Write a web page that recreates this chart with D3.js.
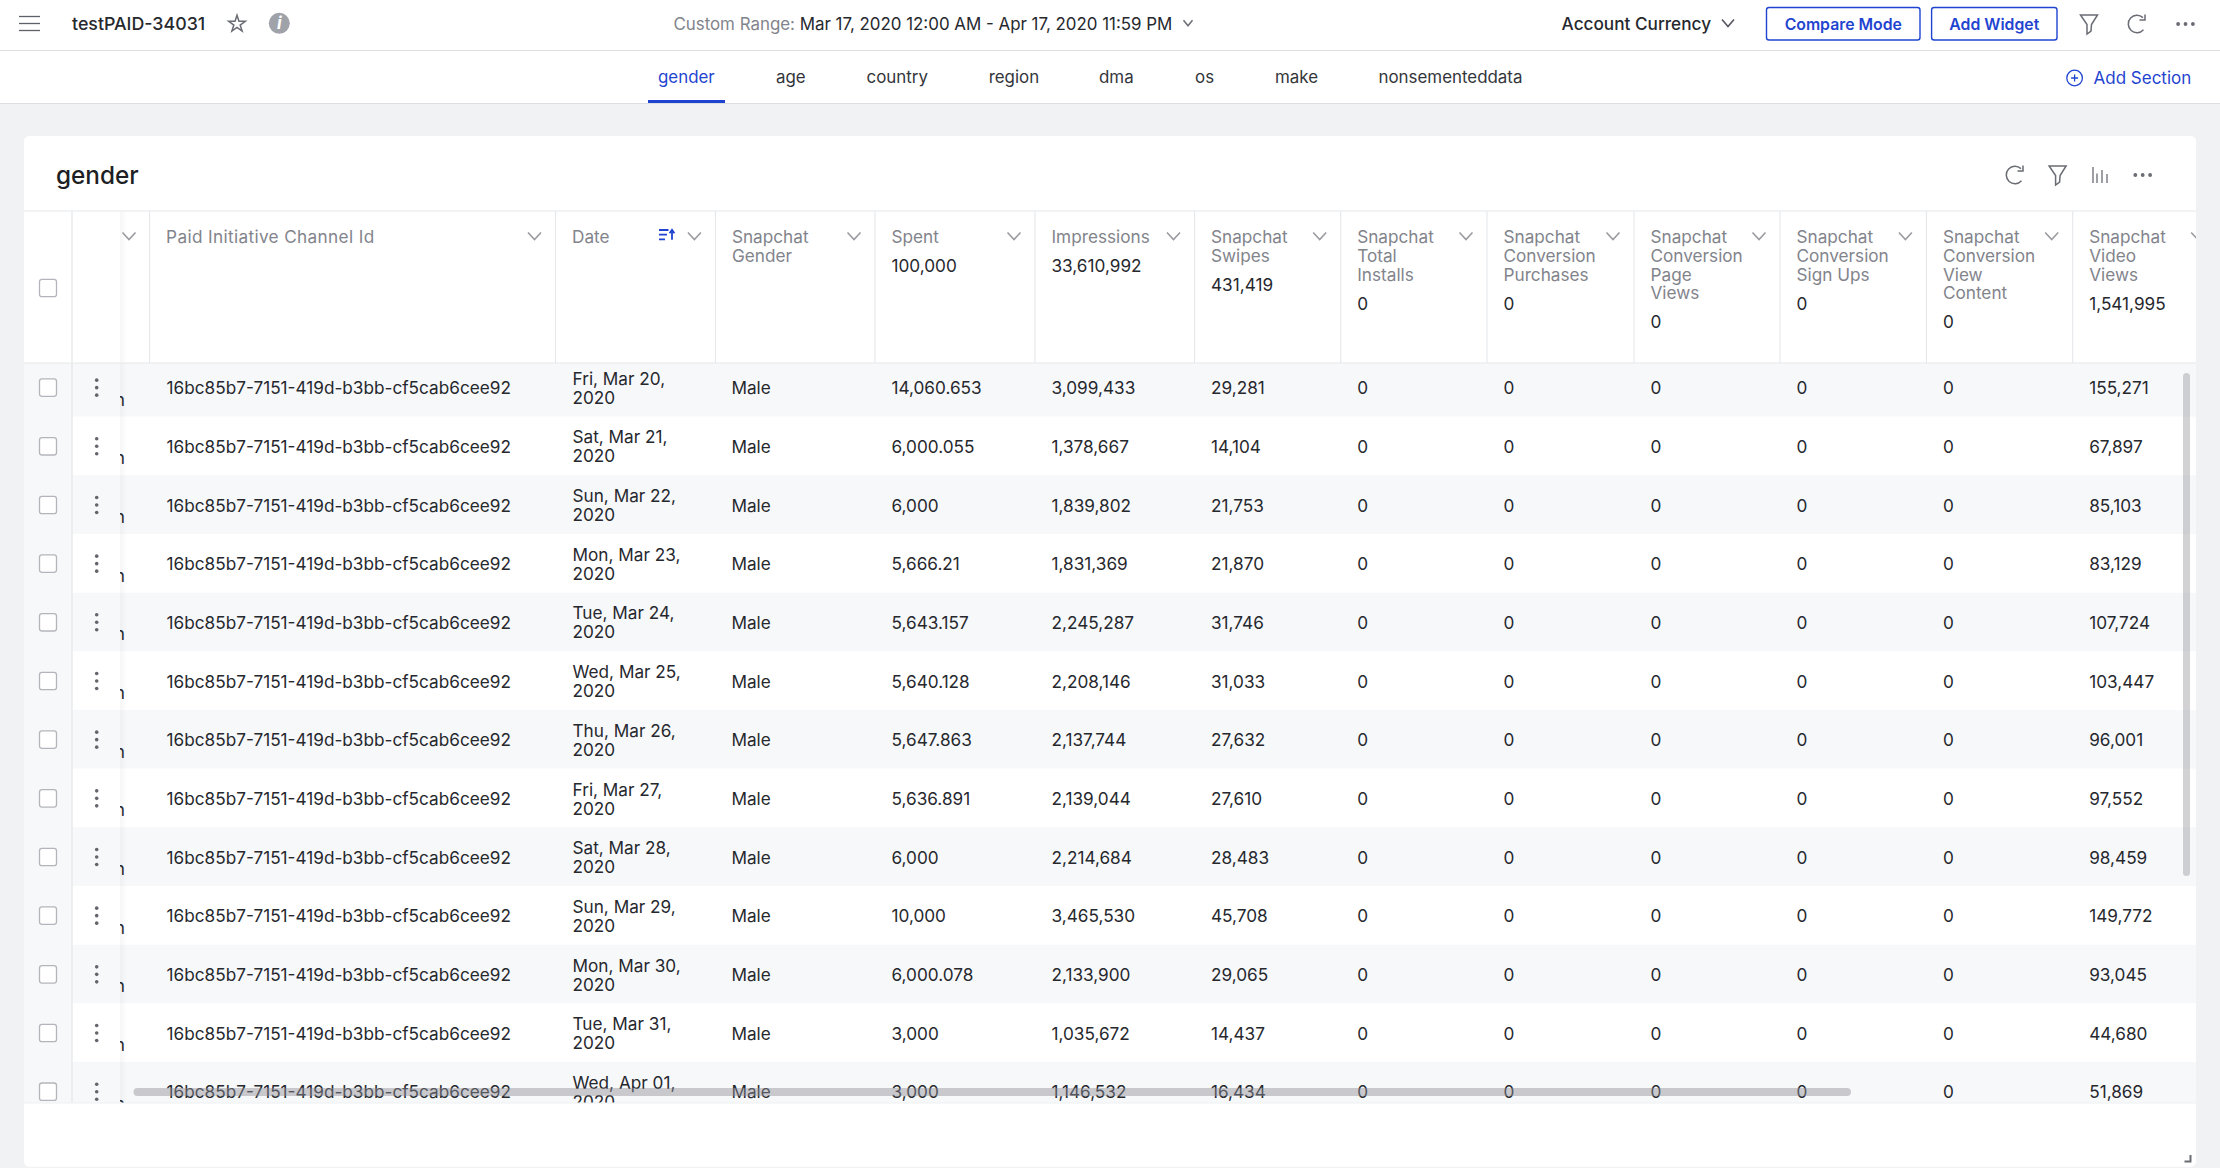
<!DOCTYPE html>
<html>
<head>
<meta charset="utf-8">
<script src="https://cdn.jsdelivr.net/npm/d3@7"></script>
<style>
  html, body { margin: 0; padding: 0; background: #f1f2f4; }
  svg { display: block; font-family: Inter, "Noto Sans", sans-serif; }
</style>
</head>
<body>
<div id="chart"></div>
<script>
// values
const tabs = ['gender', 'age', 'country', 'region', 'dma', 'os', 'make', 'nonsementeddata'];
const channelId = '16bc85b7-7151-419d-b3bb-cf5cab6cee92';
const dates = ['Fri, Mar 20, 2020', 'Sat, Mar 21, 2020', 'Sun, Mar 22, 2020', 'Mon, Mar 23, 2020',
  'Tue, Mar 24, 2020', 'Wed, Mar 25, 2020', 'Thu, Mar 26, 2020', 'Fri, Mar 27, 2020', 'Sat, Mar 28, 2020',
  'Sun, Mar 29, 2020', 'Mon, Mar 30, 2020', 'Tue, Mar 31, 2020', 'Wed, Apr 01, 2020'];
const gender = 'Male';
const spent = [14060.653, 6000.055, 6000, 5666.21, 5643.157, 5640.128, 5647.863, 5636.891, 6000, 10000, 6000.078, 3000, 3000];
const impressions = [3099433, 1378667, 1839802, 1831369, 2245287, 2208146, 2137744, 2139044, 2214684, 3465530, 2133900, 1035672, 1146532];
const swipes = [29281, 14104, 21753, 21870, 31746, 31033, 27632, 27610, 28483, 45708, 29065, 14437, 16434];
const videoViews = [155271, 67897, 85103, 83129, 107724, 103447, 96001, 97552, 98459, 149772, 93045, 44680, 51869];
const zeroes = dates.map(() => 0);

const columnIds = ['channel', 'date', 'gender', 'spent', 'impressions', 'swipes', 'installs', 'purchases', 'pageViews', 'signUps', 'viewContent', 'videoViews'];
const columnLabels = [['Paid Initiative Channel Id'], ['Date'], ['Snapchat', 'Gender'], ['Spent'], ['Impressions'],
  ['Snapchat', 'Swipes'], ['Snapchat', 'Total', 'Installs'], ['Snapchat', 'Conversion', 'Purchases'],
  ['Snapchat', 'Conversion', 'Page', 'Views'], ['Snapchat', 'Conversion', 'Sign Ups'],
  ['Snapchat', 'Conversion', 'View', 'Content'], ['Snapchat', 'Video', 'Views']];
const columnTotals = [null, null, null, 100000, 33610992, 431419, 0, 0, 0, 0, 0, 1541995];
const columnValues = [null, null, null, spent, impressions, swipes, zeroes, zeroes, zeroes, zeroes, zeroes, videoViews];

// layout
const W = 2220, H = 1168;
const columnEdges = [149.6, 555.5, 715.4, 875, 1035, 1194.5, 1340.7, 1487, 1634, 1780, 1926.4, 2072.7];
const tabX = [658, 776, 866.5, 988.7, 1099, 1195, 1275, 1378.5];
const card = { left: 24, right: 2196, top: 136, bottom: 1166.7 };
const headTop = 211, headBottom = 363, tableBottom = 1103;

const blue = '#1f45d0', ink = '#26282e', muted = '#82848c', line = '#e6e7ea', iconInk = '#6a6c74';
const fontSize = 17.2;

const x = d3.scaleOrdinal(columnIds, columnEdges);
const y = d3.scaleBand(dates, [358, 358 + 58.67 * dates.length]);
const fmt = d3.format(',');

const svg = d3.select('#chart').append('svg').attr('width', W).attr('height', H).attr('viewBox', [0, 0, W, H]);

const defs = svg.append('defs');
defs.append('clipPath').attr('id', 'tableClip').append('rect')
  .attr('x', card.left).attr('y', headBottom).attr('width', card.right - card.left).attr('height', tableBottom - headBottom);
defs.append('clipPath').attr('id', 'headClip').append('rect')
  .attr('x', card.left).attr('y', headTop).attr('width', card.right - card.left).attr('height', headBottom - headTop);
defs.append('clipPath').attr('id', 'stubClip').append('rect')
  .attr('x', 120).attr('y', headBottom).attr('width', 30).attr('height', tableBottom - headBottom);
const shade = defs.append('linearGradient').attr('id', 'stickyShade');
shade.append('stop').attr('offset', 0).attr('stop-color', '#000').attr('stop-opacity', 0.035);
shade.append('stop').attr('offset', 1).attr('stop-color', '#000').attr('stop-opacity', 0);

function label(g, px, py, text, opts = {}) {
  return g.append('text').attr('x', px).attr('y', py).attr('dy', '0.36em')
    .attr('font-size', opts.size || fontSize).attr('font-weight', opts.weight || 400)
    .attr('fill', opts.fill || ink).attr('text-anchor', opts.anchor || 'start')
    .attr('font-style', opts.style || 'normal').text(text);
}

// small line icons
function chevron(g, cx, cy, w = 13, h = 7, color = '#9a9ba1') {
  const p = d3.path();
  p.moveTo(cx - w / 2, cy - h / 2);
  p.lineTo(cx, cy + h / 2);
  p.lineTo(cx + w / 2, cy - h / 2);
  g.append('path').attr('d', p).attr('fill', 'none').attr('stroke', color).attr('stroke-width', 1.6);
}
function funnel(g, cx, cy) {
  const p = d3.path();
  p.moveTo(cx - 8.5, cy - 9);
  p.lineTo(cx + 8.5, cy - 9);
  p.lineTo(cx + 2.5, cy + 0.5);
  p.lineTo(cx + 2, cy + 7);
  p.lineTo(cx - 2, cy + 10);
  p.lineTo(cx - 2, cy + 0.5);
  p.closePath();
  g.append('path').attr('d', p).attr('fill', 'none').attr('stroke', iconInk).attr('stroke-width', 1.5);
}
function refresh(g, cx, cy) {
  const arc = d3.arc().innerRadius(8.7).outerRadius(8.7).startAngle(2.3).endAngle(Math.PI * 2 + 0.75);
  g.append('path').attr('transform', `translate(${cx},${cy})`).attr('d', arc())
    .attr('fill', 'none').attr('stroke', iconInk).attr('stroke-width', 1.5);
  g.append('path').attr('d', `M${cx + 8},${cy - 9.5}V${cy - 4}H${cx + 2.5}`)
    .attr('fill', 'none').attr('stroke', iconInk).attr('stroke-width', 1.5);
}
function dots(g, cx, cy) {
  g.selectAll(null).data([-7.4, 0, 7.4]).join('circle')
    .attr('cx', d => cx + d).attr('cy', cy).attr('r', 1.9).attr('fill', '#6a6c74');
}
function checkbox(g, cy) {
  g.append('rect').attr('x', 39.5).attr('y', cy - 8.7).attr('width', 17).attr('height', 17.4).attr('rx', 2.5)
    .attr('fill', '#fff').attr('stroke', '#b4b5ba').attr('stroke-width', 1.3);
}

// top bar
const topBar = svg.append('g');
topBar.append('rect').attr('width', W).attr('height', 103).attr('fill', '#fff');
topBar.append('line').attr('x1', 0).attr('x2', W).attr('y1', 50.5).attr('y2', 50.5).attr('stroke', '#dddee1').attr('stroke-width', 1.2);
topBar.append('line').attr('x1', 0).attr('x2', W).attr('y1', 103.5).attr('y2', 103.5).attr('stroke', '#dddee1').attr('stroke-width', 1.2);
topBar.selectAll(null).data([16.5, 23.5, 30.5]).join('line')
  .attr('x1', 19).attr('x2', 40).attr('y1', d => d).attr('y2', d => d).attr('stroke', '#5f6168').attr('stroke-width', 1.3);
label(topBar, 72, 24, 'testPAID-34031', { weight: 500, size: 17.8 });

topBar.append('path').attr('transform', 'translate(237,24)')
  .attr('d', d3.symbol(d3.symbolStar, 85)).attr('fill', 'none').attr('stroke', iconInk).attr('stroke-width', 1.5);
topBar.append('circle').attr('cx', 279.3).attr('cy', 23.3).attr('r', 10.5).attr('fill', '#a0a2aa');
label(topBar, 279.3, 23.3, 'i', { fill: '#fff', anchor: 'middle', style: 'italic', weight: 700, size: 17 });

const range = label(topBar, 673.4, 24, '', { fill: muted, size: 16.9 });
range.append('tspan').attr('fill', muted).text('Custom Range: ');
range.append('tspan').attr('fill', ink).text('Mar 17, 2020 12:00 AM - Apr 17, 2020 11:59 PM');
chevron(topBar, 1188, 23, 9, 5.5, '#6f7178');

label(topBar, 1561.6, 24, 'Account Currency', { weight: 500 });
chevron(topBar, 1728, 23, 12, 7, '#55575e');

[['Compare Mode', 1766.5, 1920], ['Add Widget', 1931.6, 2057]].forEach(([name, a, b]) => {
  topBar.append('rect').attr('x', a).attr('y', 7.5).attr('width', b - a).attr('height', 32.5).attr('rx', 2.5)
    .attr('fill', '#fff').attr('stroke', blue).attr('stroke-width', 1.4);
  label(topBar, (a + b) / 2, 24, name, { fill: blue, anchor: 'middle', weight: 600, size: 15.8 });
});
funnel(topBar, 2089, 24);
refresh(topBar, 2137, 24);
dots(topBar, 2185.5, 24);

// tabs
const tabRow = svg.append('g');
tabRow.selectAll('text').data(tabs).join('text')
  .attr('x', (d, i) => tabX[i]).attr('y', 77).attr('dy', '0.36em')
  .attr('font-size', 16.9).attr('fill', (d, i) => i === 0 ? blue : '#33353b').text(d => d);
tabRow.append('rect').attr('x', 648).attr('y', 100).attr('width', 77).attr('height', 3).attr('fill', blue);
tabRow.append('circle').attr('cx', 2074.6).attr('cy', 78).attr('r', 7.8).attr('fill', 'none').attr('stroke', blue).attr('stroke-width', 1.3);
tabRow.append('path').attr('d', 'M2071.1,78H2078.1M2074.6,74.5V81.5').attr('stroke', blue).attr('stroke-width', 1.3);
label(tabRow, 2093.5, 78, 'Add Section', { fill: blue, size: 17 });

// card
svg.append('rect').attr('x', card.left).attr('y', card.top).attr('width', card.right - card.left)
  .attr('height', card.bottom - card.top).attr('rx', 5).attr('fill', '#fff');
label(svg, 56, 175, 'gender', { size: 24.3, weight: 500, fill: '#1d1f25' });
refresh(svg, 2015, 175);
funnel(svg, 2057.6, 175);
svg.append('g').selectAll('line').data([-7, -3, 2, 7]).join('line')
  .attr('x1', d => 2100 + d).attr('x2', d => 2100 + d)
  .attr('y1', (d, i) => 175 + [-8, -1.5, -5, -1][i]).attr('y2', 183)
  .attr('stroke', iconInk).attr('stroke-width', 1.3);
dots(svg, 2142.7, 175);

// body rows
const body = svg.append('g').attr('clip-path', 'url(#tableClip)');
const rows = body.selectAll('g.row').data(dates).join('g').attr('class', 'row')
  .attr('transform', d => `translate(0,${y(d)})`);
rows.append('rect').attr('x', card.left).attr('width', card.right - card.left).attr('height', y.bandwidth())
  .attr('fill', (d, i) => i % 2 === 0 ? '#f7f8fa' : '#fff');
const rowMid = y.bandwidth() / 2;
const textMid = rowMid + 0.8;

rows.append('text').attr('x', x('channel') + 17).attr('y', textMid).attr('dy', '0.36em')
  .attr('font-size', fontSize).attr('fill', ink).text(channelId);

const dateText = rows.append('text').attr('font-size', fontSize).attr('fill', ink);
dateText.append('tspan').attr('x', x('date') + 17).attr('y', textMid - 9.5).attr('dy', '0.36em').text(d => d.slice(0, d.lastIndexOf(' ')));
dateText.append('tspan').attr('x', x('date') + 17).attr('y', textMid + 9.5).attr('dy', '0.36em').text(d => d.slice(d.lastIndexOf(' ') + 1));

rows.append('text').attr('x', x('gender') + 16).attr('y', textMid).attr('dy', '0.36em')
  .attr('font-size', fontSize).attr('fill', ink).text(gender);

columnIds.forEach((id, c) => {
  const vals = columnValues[c];
  if (!vals) return;
  rows.append('text').attr('x', x(id) + 16.5).attr('y', textMid).attr('dy', '0.36em')
    .attr('font-size', fontSize).attr('fill', ink).text((d, i) => fmt(vals[i]));
});

// hidden column sliding under the sticky ones
const stub = svg.append('g').attr('clip-path', 'url(#stubClip)');
stub.selectAll('text').data(dates).join('text')
  .attr('x', 125).attr('y', d => y(d) + rowMid + 12).attr('dy', '0.36em').attr('text-anchor', 'end')
  .attr('font-size', fontSize).attr('fill', ink).text('n');

// sticky columns
const sticky = svg.append('g').attr('clip-path', 'url(#tableClip)');
sticky.append('rect').attr('x', card.left).attr('y', headBottom).attr('width', 48).attr('height', tableBottom - headBottom).attr('fill', '#f7f8fa');
sticky.selectAll('rect.stick').data(dates).join('rect').attr('class', 'stick')
  .attr('x', 73).attr('y', d => y(d)).attr('width', 47).attr('height', y.bandwidth())
  .attr('fill', (d, i) => i % 2 === 0 ? '#f7f8fa' : '#fff');
sticky.append('rect').attr('x', 120).attr('y', headBottom).attr('width', 7).attr('height', tableBottom - headBottom).attr('fill', 'url(#stickyShade)');
dates.forEach(d => {
  const mid = y(d) + rowMid + 0.3;
  checkbox(sticky, mid);
  sticky.selectAll(null).data([-7.5, 0, 7.5]).join('circle')
    .attr('cx', 96.7).attr('cy', o => mid + o).attr('r', 1.8).attr('fill', '#63656c');
});

// header
const head = svg.append('g').attr('clip-path', 'url(#headClip)');
head.append('rect').attr('x', card.left).attr('y', headTop).attr('width', card.right - card.left).attr('height', headBottom - headTop).attr('fill', '#fff');
head.append('rect').attr('x', 120).attr('y', headTop).attr('width', 7).attr('height', headBottom - headTop).attr('fill', 'url(#stickyShade)');
chevron(head, 129, 236);
columnIds.forEach((id, c) => {
  const g = head.append('g');
  const lines = columnLabels[c];
  lines.forEach((t, k) => {
    const txt = label(g, x(id) + 16.5, 237 + k * 18.67, t, { fill: muted });
    if (id === 'channel') txt.attr('letter-spacing', 0.35);
  });
  if (columnTotals[c] !== null) {
    label(g, x(id) + 16.5, 237 + (lines.length - 1) * 18.67 + 29, fmt(columnTotals[c]));
  }
  chevron(g, x(id) + (columnIds[c + 1] ? x(columnIds[c + 1]) - x(id) : 146) - 21, 236);
});
// sort marker on Date
const sortMark = head.append('g').attr('stroke', blue).attr('stroke-width', 1.8).attr('fill', 'none');
sortMark.append('path').attr('d', 'M659,230H668.5M659,234.7H667M659,239.3H665');
sortMark.append('path').attr('d', 'M672,239.8V230.5M669.6,233.2L672,229.8L674.4,233.2');
checkbox(head, 288);

// grid lines
const grid = svg.append('g').attr('stroke', line).attr('stroke-width', 1.1);
grid.append('line').attr('x1', card.left).attr('x2', card.right).attr('y1', headTop).attr('y2', headTop);
grid.append('line').attr('x1', card.left).attr('x2', card.right).attr('y1', headBottom).attr('y2', headBottom);
grid.selectAll('line.col').data(columnEdges).join('line').attr('class', 'col')
  .attr('x1', d => d).attr('x2', d => d).attr('y1', headTop).attr('y2', headBottom);
grid.append('line').attr('x1', 72).attr('x2', 72).attr('y1', headTop).attr('y2', tableBottom).attr('stroke', '#e9eaed').attr('stroke-width', 1.5);
grid.append('line').attr('x1', card.left).attr('x2', card.right).attr('y1', tableBottom).attr('y2', tableBottom).attr('stroke', '#eeeff1');

// scrollbars
svg.append('rect').attr('x', 133.5).attr('y', 1088).attr('width', 1717.5).attr('height', 8).attr('rx', 4)
  .attr('fill', '#8f8e96').attr('fill-opacity', 0.45);
svg.append('rect').attr('x', 2183).attr('y', 373).attr('width', 7).attr('height', 503).attr('rx', 3.5)
  .attr('fill', '#8f8e96').attr('fill-opacity', 0.4);

// resize handle
svg.append('path').attr('d', 'M2184.5,1161.5H2190.5V1155').attr('fill', 'none').attr('stroke', '#6a6c74').attr('stroke-width', 2);
</script>
</body>
</html>
